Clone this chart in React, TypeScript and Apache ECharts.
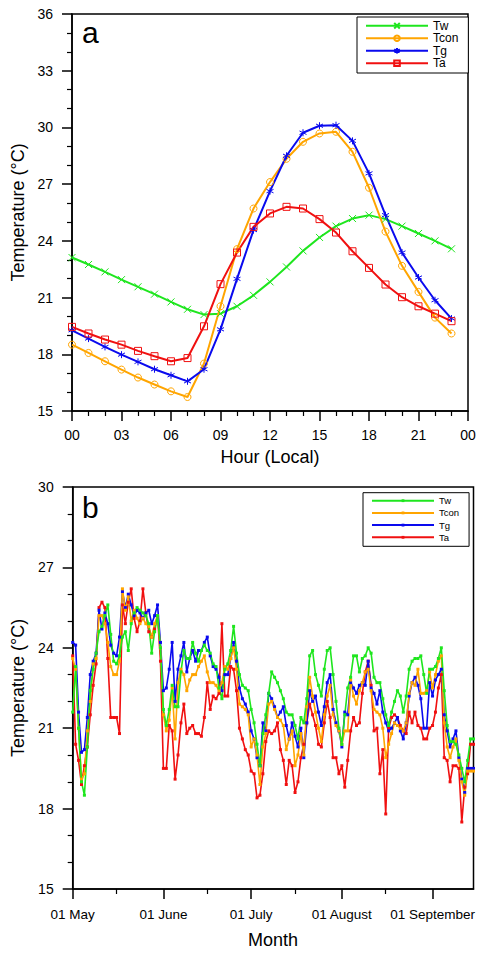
import React, { useEffect, useRef } from 'react';
import * as echarts from 'echarts';

// ---------- Panel a: mean diurnal cycle ----------
const hours = [0, 1, 2, 3, 4, 5, 6, 7, 8, 9, 10, 11, 12, 13, 14, 15, 16, 17, 18, 19, 20, 21, 22, 23];
const hourlyTw = [23.12, 22.75, 22.36, 21.95, 21.57, 21.18, 20.77, 20.38, 20.1, 20.15, 20.54, 21.12, 21.83, 22.62, 23.47, 24.18, 24.78, 25.18, 25.36, 25.15, 24.78, 24.39, 24.0, 23.58];
const hourlyTcon = [18.51, 18.07, 17.63, 17.19, 16.77, 16.4, 16.04, 15.74, 17.51, 20.54, 23.56, 25.71, 27.11, 28.34, 29.24, 29.68, 29.77, 28.71, 26.81, 24.49, 22.68, 21.3, 19.94, 19.1];
const hourlyTg = [19.27, 18.83, 18.39, 17.98, 17.6, 17.21, 16.89, 16.57, 17.21, 19.32, 21.99, 24.57, 26.63, 28.5, 29.72, 30.09, 30.12, 29.29, 27.57, 25.36, 23.38, 22.06, 20.86, 19.89];
const hourlyTa = [19.45, 19.1, 18.78, 18.51, 18.18, 17.9, 17.63, 17.8, 19.48, 21.71, 23.38, 24.74, 25.45, 25.8, 25.71, 25.15, 24.44, 23.45, 22.57, 21.69, 21.02, 20.54, 20.15, 19.75];

// ---------- Panel b: daily series, day 0 = 01 May ----------
const dailyTw = [
  21.6, 23.3, 21.0, 19.0, 18.5, 20.3, 22.4, 23.2, 23.8, 24.6,
  24.8, 25.2, 25.6, 24.5, 23.5, 23.4, 23.7, 24.4, 24.6, 23.9,
  24.9, 25.3, 25.5, 25.4, 25.3, 25.2, 24.9, 23.8, 24.6, 25.2,
  24.0, 21.7, 21.1, 21.7, 22.6, 21.8, 21.8, 23.1, 23.9, 23.6,
  23.6, 24.2, 23.8, 23.5, 23.9, 24.1, 23.9, 23.8, 23.4, 23.3,
  22.5, 22.1, 23.2, 23.4, 23.9, 24.8, 23.8, 23.0, 22.6, 22.5,
  22.4, 21.7, 21.2, 20.4, 19.6, 20.8, 21.5, 22.3, 23.1, 22.9,
  22.7, 22.4, 22.1, 21.6, 21.5, 21.5, 21.1, 20.6, 21.4, 21.2,
  22.1, 23.7, 23.9, 23.0, 22.6, 22.2, 23.2, 23.9, 24.0, 23.0,
  22.0, 21.0, 20.4, 21.5, 22.5, 22.9, 23.7, 23.7, 23.1, 23.6,
  23.7, 24.0, 23.8, 22.9, 22.7, 22.7, 22.1, 21.5, 21.1, 21.6,
  22.0, 22.4, 22.2, 21.6, 22.2, 23.2, 23.5, 23.6, 23.6, 23.7,
  23.0, 22.3, 23.2, 23.2, 23.3, 23.6, 24.0, 22.4, 21.1, 20.5,
  20.5, 20.4, 20.0, 19.5, 19.0, 19.8, 20.6, 20.6,
];
const dailyTcon = [
  23.6, 23.2, 21.0, 19.1, 19.3, 20.9, 22.0, 23.4, 23.6, 25.2,
  25.2, 24.9, 24.2, 23.3, 23.0, 23.0, 23.5, 26.2, 25.4, 25.9,
  25.0, 25.4, 25.1, 24.9, 25.1, 24.9, 24.8, 24.4, 24.9, 25.2,
  24.0, 21.5, 20.9, 21.3, 22.5, 20.6, 22.7, 23.2, 23.0, 22.4,
  22.8, 23.0, 23.0, 23.3, 23.5, 23.7, 23.1, 22.7, 22.7, 22.6,
  22.4, 22.7, 23.3, 23.2, 23.6, 24.0, 23.2, 21.9, 21.8, 21.7,
  21.5, 20.3, 20.6, 20.0, 18.9, 20.3, 20.8, 21.9, 22.0, 21.7,
  21.4, 21.3, 21.1, 20.2, 20.6, 20.9, 19.6, 20.0, 20.8, 20.0,
  21.8, 22.9, 22.2, 21.6, 21.0, 20.5, 21.5, 22.2, 22.6, 21.5,
  21.1, 20.9, 20.4, 20.9, 20.9, 22.8, 22.2, 21.9, 22.4, 22.7,
  23.1, 23.2, 22.4, 21.7, 21.6, 21.5, 21.0, 19.9, 20.4, 20.8,
  21.2, 21.1, 21.0, 20.9, 21.2, 22.3, 22.7, 22.6, 23.2, 22.3,
  22.3, 22.4, 23.1, 22.5, 23.0, 23.5, 23.7, 21.2, 20.3, 19.9,
  20.3, 20.6, 19.8, 19.0, 18.5, 19.4, 19.4, 19.4,
];
const dailyTg = [
  24.2, 24.1, 21.6, 20.1, 20.2, 21.4, 23.0, 23.5, 23.8, 25.4,
  24.7, 25.3, 24.9, 24.1, 23.8, 23.7, 24.4, 26.1, 25.5, 26.0,
  25.6, 25.2, 25.4, 25.3, 25.1, 25.3, 25.4, 24.9, 25.2, 25.6,
  24.2, 22.4, 22.5, 23.2, 24.2, 22.0, 23.2, 23.7, 24.2, 23.1,
  23.6, 23.9, 23.5, 23.9, 23.9, 24.2, 24.4, 23.7, 23.3, 23.2,
  22.9, 22.4, 23.0, 23.0, 23.6, 24.2, 23.5, 22.5, 22.1, 21.9,
  21.6, 20.9, 20.6, 19.9, 19.6, 21.2, 20.9, 22.3, 22.1, 21.8,
  21.4, 21.6, 21.8, 21.1, 20.6, 21.2, 20.7, 20.3, 21.0, 19.9,
  21.2, 22.4, 22.0, 22.2, 21.6, 21.1, 21.8, 22.7, 23.0, 21.7,
  21.2, 20.9, 20.3, 21.6, 21.5, 22.7, 22.5, 22.3, 22.6, 22.7,
  22.6, 23.5, 22.5, 22.3, 21.9, 22.4, 21.6, 21.2, 20.9, 21.0,
  21.2, 21.4, 20.9, 20.6, 21.2, 22.2, 22.7, 22.9, 22.6, 22.1,
  21.0, 21.0, 22.7, 22.2, 22.8, 23.0, 23.2, 21.5, 20.9, 20.3,
  20.6, 20.9, 19.9, 19.1, 18.6, 19.5, 19.5, 19.5,
];
const dailyTa = [
  23.7, 20.4, 19.8, 18.9, 19.6, 20.3, 21.5, 22.6, 23.4, 25.5,
  25.7, 25.5, 23.6, 21.4, 21.4, 21.4, 20.8, 25.6, 24.9, 25.7,
  26.2, 25.1, 24.6, 25.0, 26.2, 25.3, 24.6, 24.4, 24.7, 25.2,
  23.5, 19.5, 19.5, 21.1, 20.9, 19.1, 20.0, 21.2, 21.9, 20.8,
  21.0, 21.1, 20.8, 20.8, 20.7, 21.4, 22.7, 21.7, 22.2, 22.1,
  22.3, 24.9, 22.2, 22.2, 23.3, 23.2, 22.4, 21.0, 20.6, 20.2,
  20.0, 19.4, 19.3, 18.4, 18.5, 19.3, 20.5, 20.9, 20.8, 20.9,
  21.2, 20.2, 19.8, 18.9, 19.8, 19.6, 18.6, 19.0, 19.9, 20.4,
  21.2, 21.9, 21.5, 21.1, 20.4, 20.3, 21.2, 22.0, 21.4, 19.9,
  19.9, 19.3, 19.6, 18.8, 19.8, 20.9, 21.4, 21.1, 21.2, 22.3,
  23.1, 23.5, 22.6, 20.9, 21.0, 19.3, 20.2, 17.8, 21.0, 21.4,
  21.5, 21.4, 21.1, 20.9, 20.8, 21.6, 21.2, 21.6, 21.1, 21.0,
  20.6, 20.6, 21.0, 21.1, 21.6, 22.5, 23.0, 19.9, 19.8, 19.0,
  19.6, 19.6, 19.5, 17.5, 18.8, 19.3, 20.4, 20.4,
];

const monthStartDays = [0, 31, 61, 92, 123];
const monthLabels = ['01 May', '01 June', '01 July', '01 August', '01 September'];
const midMonthDays = [15, 46, 76, 107];

const FONT = '"Liberation Sans", Arial, Helvetica, sans-serif';
const C_TW = '#1ee61e';
const C_TCON = '#ffa500';
const C_TG = '#0a0aee';
const C_TA = '#f01010';

const X_SYM = 'path://M0,0L10,10M10,0L0,10';
const AST_SYM = 'path://M5,0L5,10M0.67,2.5L9.33,7.5M9.33,2.5L0.67,7.5';

function hourlySeries(name: string, vals: number[], color: string, symbol: string) {
  return {
    name,
    type: 'line',
    xAxisIndex: 0,
    yAxisIndex: 0,
    data: hours.map((h, i) => [h, vals[i]]),
    symbol,
    symbolSize: 7,
    showSymbol: true,
    lineStyle: { color, width: 2 },
    itemStyle: { color: 'rgba(255,255,255,0)', borderColor: color, borderWidth: 1 },
    z: 3,
  };
}

function dailySeries(name: string, vals: number[], color: string) {
  return {
    name,
    type: 'line',
    xAxisIndex: 1,
    yAxisIndex: 1,
    data: vals.map((v, i) => [i, v]),
    symbol: 'rect',
    symbolSize: 3,
    showSymbol: true,
    lineStyle: { color, width: 1.6 },
    itemStyle: { color },
    z: 3,
  };
}

const axisLineStyle = { lineStyle: { color: '#000', width: 1.5 } };
const majorTick = { show: true, length: 10, lineStyle: { color: '#000', width: 1.5 } };
const minorTick = { show: true, splitNumber: 3, length: 5, lineStyle: { color: '#000', width: 1.2 } };
const labelStyle = { color: '#000', fontFamily: FONT };

const option: any = {
  animation: false,
  backgroundColor: '#fff',
  grid: [
    { left: 72, top: 14, width: 396, height: 397, show: true, borderColor: '#000', borderWidth: 1.5, backgroundColor: 'transparent' },
    { left: 72.7, top: 487, width: 400.8, height: 402, show: true, borderColor: '#000', borderWidth: 1.5, backgroundColor: 'transparent' },
  ],
  xAxis: [
    {
      type: 'value', gridIndex: 0, min: 0, max: 24, interval: 3,
      axisLine: axisLineStyle, axisTick: majorTick, minorTick,
      splitLine: { show: false },
      axisLabel: { ...labelStyle, fontSize: 14, margin: 17, showMinLabel: true, showMaxLabel: true,
        formatter: (v: number) => String(v % 24).padStart(2, '0') },
      name: 'Hour (Local)', nameLocation: 'middle', nameGap: 37,
      nameTextStyle: { ...labelStyle, fontSize: 18 },
    },
    {
      type: 'value', gridIndex: 1, min: 0, max: 137,
      axisLine: axisLineStyle,
      axisTick: { ...majorTick, customValues: monthStartDays },
      splitLine: { show: false },
      axisLabel: { ...labelStyle, fontSize: 13.5, margin: 18, customValues: monthStartDays,
        formatter: (v: number) => monthLabels[monthStartDays.indexOf(Math.round(v))] ?? '' },
      name: 'Month', nameLocation: 'middle', nameGap: 42,
      nameTextStyle: { ...labelStyle, fontSize: 18 },
    },
    {
      type: 'value', gridIndex: 1, min: 0, max: 137, position: 'bottom',
      axisLine: { show: false },
      axisTick: { show: true, length: 5, customValues: midMonthDays, lineStyle: { color: '#000', width: 1.2 } },
      axisLabel: { show: false },
      splitLine: { show: false },
    },
  ],
  yAxis: [
    {
      type: 'value', gridIndex: 0, min: 15, max: 36, interval: 3,
      axisLine: { show: true, ...axisLineStyle }, axisTick: majorTick, minorTick,
      splitLine: { show: false },
      axisLabel: { ...labelStyle, fontSize: 14, margin: 19, showMinLabel: true, showMaxLabel: true },
      name: 'Temperature (°C)', nameLocation: 'middle', nameGap: 45,
      nameTextStyle: { ...labelStyle, fontSize: 18 },
    },
    {
      type: 'value', gridIndex: 1, min: 15, max: 30, interval: 3,
      axisLine: { show: true, ...axisLineStyle }, axisTick: majorTick, minorTick,
      splitLine: { show: false },
      axisLabel: { ...labelStyle, fontSize: 14, margin: 19, showMinLabel: true, showMaxLabel: true },
      name: 'Temperature (°C)', nameLocation: 'middle', nameGap: 45,
      nameTextStyle: { ...labelStyle, fontSize: 18 },
    },
  ],
  legend: [
    {
      data: ['Tw', 'Tcon', 'Tg', 'Ta'],
      orient: 'vertical', left: 357, top: 17,
      itemWidth: 62, itemHeight: 7, itemGap: 0,
      padding: [2.5, 10, 3.5, 8],
      borderColor: '#000', borderWidth: 1, backgroundColor: '#fff',
      selectedMode: false,
      textStyle: { ...labelStyle, fontSize: 12, lineHeight: 12.5 },
    },
    {
      data: ['Tw_b', 'Tcon_b', 'Tg_b', 'Ta_b'],
      formatter: (n: string) => n.replace('_b', ''),
      orient: 'vertical', left: 363, top: 492.7,
      itemWidth: 62, itemHeight: 3.5, itemGap: 1.2,
      padding: [2.5, 10, 3.5, 8],
      borderColor: '#000', borderWidth: 1, backgroundColor: '#fff',
      selectedMode: false,
      textStyle: { ...labelStyle, fontSize: 9.5, lineHeight: 11 },
    },
  ],
  graphic: [
    { type: 'text', left: 82, top: 17, style: { text: 'a', font: `30px ${FONT}`, fill: '#000' } },
    { type: 'text', left: 82, top: 492, style: { text: 'b', font: `30px ${FONT}`, fill: '#000' } },
  ],
  series: [
    hourlySeries('Tw', hourlyTw, C_TW, X_SYM),
    hourlySeries('Tcon', hourlyTcon, C_TCON, 'circle'),
    hourlySeries('Tg', hourlyTg, C_TG, AST_SYM),
    hourlySeries('Ta', hourlyTa, C_TA, 'rect'),
    dailySeries('Ta_b', dailyTa, C_TA),
    dailySeries('Tg_b', dailyTg, C_TG),
    dailySeries('Tcon_b', dailyTcon, C_TCON),
    dailySeries('Tw_b', dailyTw, C_TW),
  ],
};

export default function App() {
  const ref = useRef<HTMLDivElement>(null);
  useEffect(() => {
    document.body.style.margin = '0';
    const chart = echarts.init(ref.current as HTMLDivElement, null, { renderer: 'svg' });
    chart.setOption(option);
    return () => chart.dispose();
  }, []);
  return <div ref={ref} style={{ width: 485, height: 958 }} />;
}
